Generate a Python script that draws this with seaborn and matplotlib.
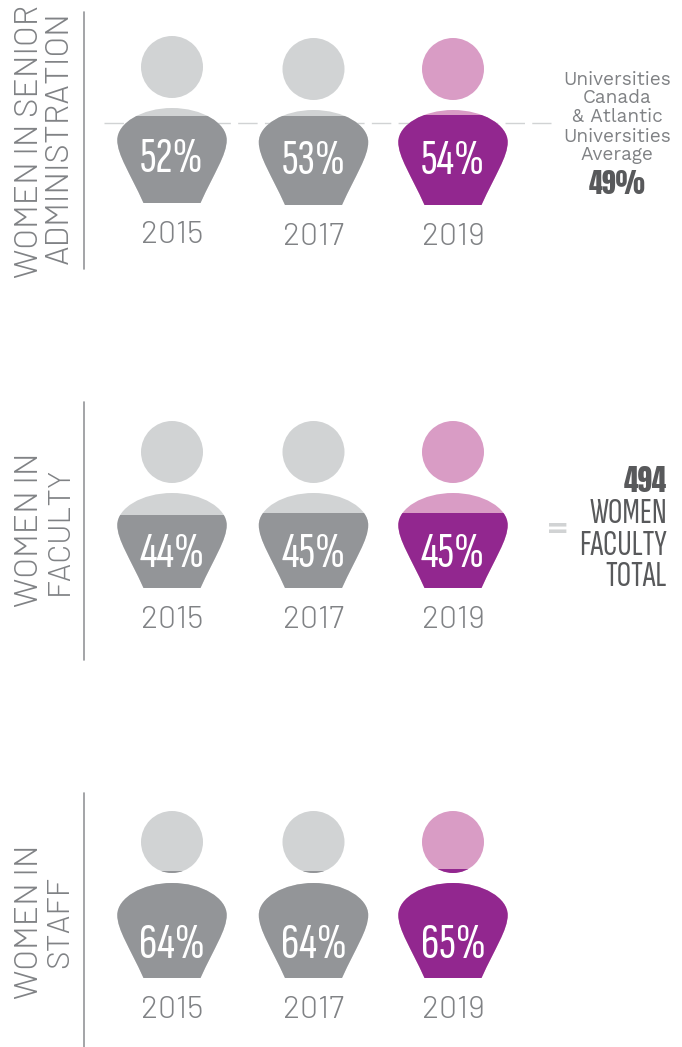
import matplotlib
matplotlib.use("Agg")
import logging
import matplotlib.pyplot as plt
import seaborn as sns
from matplotlib.lines import Line2D
from matplotlib.patches import PathPatch
from matplotlib.path import Path
from matplotlib.transforms import Affine2D

logging.getLogger("matplotlib.font_manager").setLevel(logging.ERROR)

years = ["2015", "2017", "2019"]
admin_pct = [52, 53, 54]
faculty_pct = [44, 45, 45]
staff_pct = [64, 64, 65]
admin_average = 49
faculty_total = 494

dark_colors = ["#939598", "#939598", "#92278F"]
light_colors = ["#D1D3D4", "#D1D3D4", "#D99CC5"]

W, H = 682, 1047
X0, X_STEP = 172, 140.5  # px of the first person, px between persons
ICON_H = 167
NUDGE_X = [0, 1, 0]  # the middle person sits a px to the right

LIGHT = ["Barlow", "Lato", "DejaVu Sans"]
WIDE = ["Work Sans", "Lato", "DejaVu Sans"]
NARROW = ["Sofia Sans Extra Condensed", "Pathway Gothic One", "Liberation Sans", "DejaVu Sans"]
HEAVY = ["Anton", "Liberation Sans", "DejaVu Sans"]

sns.set_theme(style="white")
fig = plt.figure(figsize=(W / 100, H / 100), dpi=100)

# person outline, px relative to the bottom centre of the figure
verts = [(-28.5, 0), (-42, 30), (-54.7, 48), (-54.7, 63), (-54.7, 80), (-30, 95), (0, 95),
         (30, 95), (54.7, 80), (54.7, 63), (54.7, 48), (42, 30), (28.5, 0), (-28.5, 0)]
codes = [Path.MOVETO] + [Path.CURVE4] * 12 + [Path.CLOSEPOLY]
body = Path(verts, codes)
head = Path.circle((0, 136), 31)
person = Path.make_compound_path(body, head)


def draw_row(values, bottom_px, dy_px, label_px, avg=None):
    ax = fig.add_axes([0, 1 - bottom_px / H, 1, ICON_H / H])
    sns.barplot(x=years, y=values, hue=years, palette=dark_colors, dodge=False,
                legend=False, ax=ax, saturation=1, zorder=3)
    ax.set_xlim(-X0 / X_STEP, (W - X0) / X_STEP)
    ax.set_ylim(0, 100)
    ax.set_axis_off()
    ax.patch.set_alpha(0)
    y_scale = 100 / ICON_H
    if avg is not None:
        ax.plot([(104 - X0) / X_STEP, (551 - X0) / X_STEP], [avg, avg], color="#D1D3D4",
                lw=1, ls=(0, (14, 5.25)), zorder=1)
    for i, bar in enumerate(ax.patches[:3]):
        shift = dy_px[i] * y_scale
        nudge = NUDGE_X[i] / X_STEP
        icon_trans = Affine2D().scale(1 / X_STEP, y_scale).translate(i + nudge, shift) + ax.transData
        ax.add_patch(PathPatch(person, transform=icon_trans, fc=light_colors[i], ec="none",
                               zorder=2, clip_on=False))
        bar.set_transform(Affine2D().translate(nudge, shift) + ax.transData)
        bar.set_clip_path(person, icon_trans)
        bar.set_edgecolor("none")
        ax.text(i + nudge, label_px * y_scale + shift, f"{values[i]}%", color="white", family=NARROW,
                fontweight=300, fontsize=37, ha="center", va="baseline", zorder=4)
        ax.text(i + nudge, -40 * y_scale + shift, years[i], color="#808285", family=LIGHT, fontweight=300,
                fontsize=23, ha="center", va="baseline", clip_on=False)
    return ax


draw_row(admin_pct, 205, [2, 0, 0], 31, avg=admin_average)
draw_row(faculty_pct, 588, [0, 0, 0], 21)
draw_row(staff_pct, 978, [0, 0, 0], 20)


def px_text(x, y, s, **kw):
    fig.text(x / W, 1 - y / H, s, **kw)


# side labels and rules
side = [(38, 141, "WOMEN IN SENIOR", 24), (68, 138, "ADMINISTRATION", 24),
        (38, 530, "WOMEN IN", 24), (68, 531, "FACULTY", 22.5),
        (38, 922, "WOMEN IN", 24), (68, 922, "STAFF", 23)]
for x, y, s, size in side:
    px_text(x, y, s, rotation=90, rotation_mode="anchor", color="#808285", family=LIGHT,
            fontweight=300, fontsize=size, ha="center", va="baseline")
for top, bot in [(12, 269), (402, 660), (793, 1047)]:
    fig.add_artist(Line2D([84 / W, 84 / W], [1 - top / H, 1 - bot / H], color="#939598", lw=1.2))

# universities note
note = ["Universities", "Canada", "& Atlantic", "Universities", "Average"]
for y, s in zip([85, 103, 122.5, 141.5, 160], note):
    px_text(617, y, s, color="#808285", family=WIDE, fontweight=300, fontsize=13.7, ha="center", va="baseline")
px_text(617, 194, f"{admin_average}%", color="#58595B", family=HEAVY, fontsize=20, ha="center", va="baseline")

# faculty total
px_text(558, 537, "=", color="#D1D3D4", family="DejaVu Sans", fontweight="bold", fontsize=20, ha="center", va="baseline")
px_text(667, 491.5, str(faculty_total), color="#58595B", family=HEAVY, fontsize=21, ha="right", va="baseline")
for y, s in zip([523, 555, 586.5], ["WOMEN", "FACULTY", "TOTAL"]):
    px_text(667, y, s, color="#58595B", family=NARROW, fontsize=26, ha="right", va="baseline")

fig.savefig("out.png", dpi=100)
